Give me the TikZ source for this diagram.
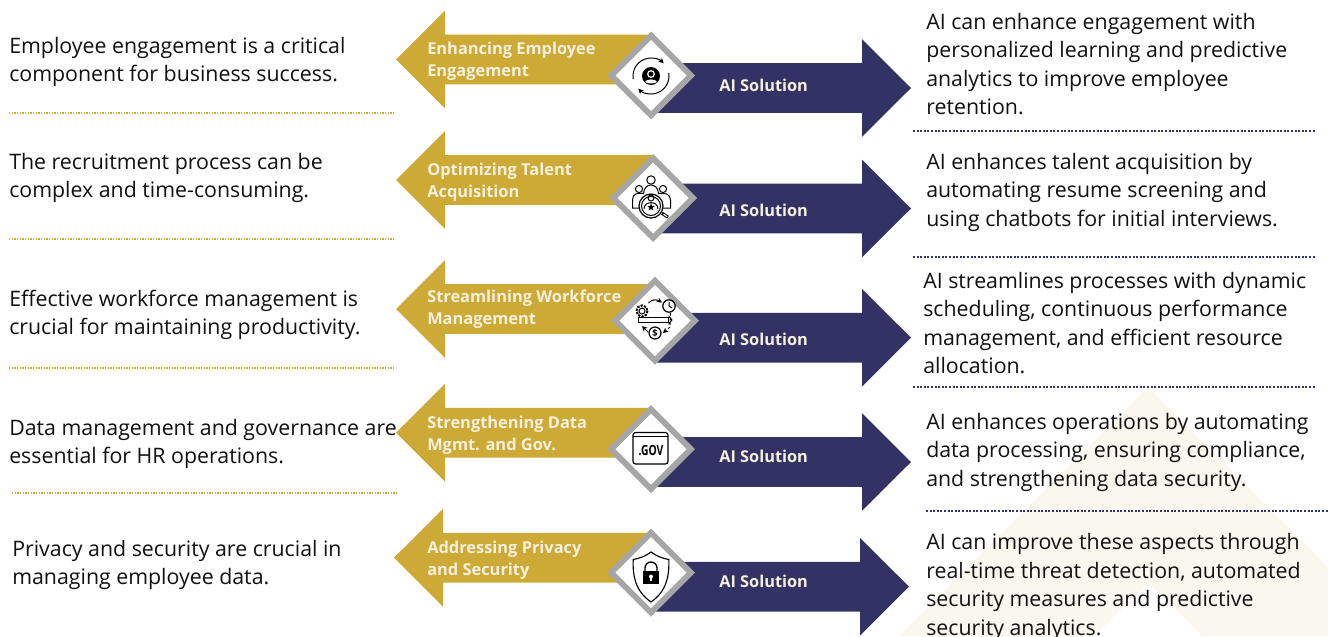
\documentclass[tikz,border=0pt]{standalone}
\usepackage{fontspec}
\setmainfont{Open Sans}
\usetikzlibrary{arrows.meta}
\definecolor{goldc}{HTML}{CDA935}
\definecolor{navyc}{HTML}{323264}
\definecolor{greyc}{HTML}{A6A6A6}
\definecolor{creamc}{HTML}{FAF7EE}
\definecolor{labelc}{HTML}{F6F0DE}
\definecolor{textc}{HTML}{111111}
\tikzset{
  x=0.75pt,y=-0.75pt,
  body/.style={anchor=west,align=left,inner sep=0pt,text=textc,font=\fontsize{16}{21.4}\selectfont},
  lab/.style={anchor=west,align=left,inner sep=0pt,text=labelc,font=\fontsize{12.3}{16.5}\selectfont\bfseries},
  aisol/.style={anchor=west,inner sep=0pt,text=labelc,font=\fontsize{12.25}{14}\selectfont\bfseries},
  golddots/.style={draw=goldc,line width=1.1pt,dash pattern=on 1.1pt off 0.9pt},
  navydots/.style={draw=navyc,line width=1.5pt,dash pattern=on 1.5pt off 1.2pt},
  ico/.style={draw=black,line width=0.75pt,fill=none},
  tipline/.style={draw=black,line width=0.75pt,-{Stealth[length=4pt,width=4pt]}},
}
% #1 tip x, #2 head base x, #3 mid y, #4 inner end x
\newcommand{\bigarrow}[5]{\fill[#5] (#1,#3) -- (#2,#3-48.8) -- (#2,#3-24.8) -- (#4,#3-24.8) -- (#4,#3+24.8) -- (#2,#3+24.8) -- (#2,#3+48.8) -- cycle;}
\newcommand{\diamondbox}[2]{\fill[greyc] (#1-44,#2) -- (#1,#2-44) -- (#1+44,#2) -- (#1,#2+44) -- cycle;
  \fill[white] (#1-35.5,#2) -- (#1,#2-35.5) -- (#1+35.5,#2) -- (#1,#2+35.5) -- cycle;}
\begin{document}
\begin{tikzpicture}
\useasboundingbox (0,0) rectangle (1328,636);
\clip (0,0) rectangle (1328,636);
\fill[white] (0,0) rectangle (1328,636);
% background chevron
\fill[creamc] (899,636) -- (1148,387) -- (1328,567) -- (1328,636) -- (1202.5,636) -- (1148,582) -- (1094,636) -- cycle;
% arrows
\bigarrow{396}{445}{59.5}{651}{goldc}
\bigarrow{911}{862}{88}{651}{navyc}
\bigarrow{396}{445}{180}{653}{goldc}
\bigarrow{911}{862}{208.5}{653}{navyc}
\bigarrow{396}{445}{309}{655}{goldc}
\bigarrow{911}{862}{337.7}{655}{navyc}
\bigarrow{396}{445}{432.7}{651}{goldc}
\bigarrow{911}{862}{462}{651}{navyc}
\bigarrow{394}{443}{557.7}{651}{goldc}
\bigarrow{909}{860}{586.7}{651}{navyc}
% diamonds
\diamondbox{651}{75.5}
\diamondbox{653}{198}
\diamondbox{655}{320.7}
\diamondbox{651}{449.2}
\diamondbox{651}{572.5}
% icon 1
\begin{scope}[shift={(651,76)}]
  \fill[black] (0,0) circle (9);
  \draw[white,line width=0.9pt] (0,-2) circle (3.3);
  \fill[white] (-6,6) .. controls (-5.3,2.6) and (5.3,2.6) .. (6,6) .. controls (3,8) and (-3,8) .. (-6,6) -- cycle;
  \draw[tipline] (170:18) arc[start angle=170,end angle=315,radius=18];
  \draw[tipline] (-10:18) arc[start angle=-10,end angle=135,radius=18];
\end{scope}
% icon 2
\begin{scope}[shift={(651,206)}]
  \draw[ico] (0,-26) circle (4.2);
  \draw[ico] (-7.5,-12) .. controls (-7.5,-24) and (7.5,-24) .. (7.5,-12);
  \draw[ico] (-12,-17) circle (3.6);
  \draw[ico] (12,-17) circle (3.6);
  \draw[ico] (-8,-12.5) .. controls (-14,-13.5) and (-18.5,-12) .. (-18.5,-6) -- (-18.5,2) -- (-11,2);
  \draw[ico] (8,-12.5) .. controls (14,-13.5) and (19.5,-12) .. (19.5,-6) -- (19.5,2) -- (12,2);
  \fill[white] (0,0) circle (12);
  \draw[ico,line width=0.9pt] (0,0) circle (12);
  \draw[ico] (0,0) circle (9.5);
  \draw[ico] (0,-8) circle (3);
  \draw[ico] (-7,3) .. controls (-7,-5.5) and (7,-5.5) .. (7,3);
  \fill[black] (0,-3) -- (1,0) -- (3.8,0) -- (1.6,1.8) -- (2.4,4.4) -- (0,3) -- (-2.4,4.4) -- (-1.6,1.8) -- (-3.8,0) -- (-1,0) -- cycle;
  \draw[black,line width=2.4pt] (11,7.2) -- (17,11.2);
  \draw[white,line width=0.9pt] (12.5,8.2) -- (16.2,10.7);
\end{scope}
% icon 3
\begin{scope}[shift={(655,322)}]
  \draw[ico,dash pattern=on 1.7pt off 0.9pt,line width=1.5pt] (-13,-11) circle (5.6);
  \draw[ico] (-13,-11) circle (3);
  \draw[ico,line width=0.9pt] (14,-16) circle (6.2);
  \draw[ico] (14,-20) -- (14,-16) -- (17,-14);
  \draw[ico,line width=0.9pt] (0,11) circle (6);
  \node[inner sep=0pt,font=\fontsize{7}{7}\selectfont\bfseries] (dollar) at (0,11) {\$};
  \draw[tipline] (-6.5,-19) .. controls (-3,-23) and (2,-22.5) .. (7,-19.5);
  \draw[ico,line width=0.9pt] (-16.7,-4.5) rectangle (13.5,0.5);
  \fill[black] (13.5,-7) -- (17.5,-2) -- (13.5,3) -- cycle;
  \fill[white] (14.2,-4.3) -- (16,-2) -- (14.2,0.3) -- cycle;
  \draw[tipline,dash pattern=on 2pt off 1.5pt] (15.5,-9) -- (15,5) -- (8,11);
  \draw[tipline] (-7,10) -- (-13,4);
\end{scope}
% icon 4
\draw[draw=black,line width=0.9pt,rounded corners=2pt,fill=white] (633,432.5) rectangle (668,464);
\draw[black,line width=0.9pt] (633,436.5) -- (668,436.5);
\node[inner sep=0pt,font=\fontsize{10.5}{11}\selectfont\bfseries,xscale=0.74] (gov) at (651,451) {.GOV};
% icon 5
\begin{scope}[shift={(651,577)}]
  \draw[black,line width=0.85pt] (0,-25) .. controls (-5,-21) and (-12,-18.5) .. (-17.8,-17.5) .. controls (-18.5,-2) and (-16,14) .. (0,25) .. controls (16,14) and (18.5,-2) .. (17.8,-17.5) .. controls (12,-18.5) and (5,-21) .. (0,-25) -- cycle;
  \draw[black,line width=1pt] (-6,-6) -- (-6,-9) arc[start angle=180,end angle=360,radius=6] -- (6,-6);
  \fill[black] (-8.2,-6) rectangle (8.2,7);
  \fill[white] (0,-0.5) circle (2);
  \fill[white] (-1.1,-0.5) rectangle (1.1,4);
\end{scope}
% separators
\coordinate (l1a) at (9,113); \coordinate (l1b) at (395,113);
\coordinate (l2a) at (9,239); \coordinate (l2b) at (395,239);
\coordinate (l3a) at (9,368); \coordinate (l3b) at (395,368);
\coordinate (l4a) at (12,493); \coordinate (l4b) at (398,493);
\coordinate (r1a) at (913,130.5); \coordinate (r1b) at (1315,130.5);
\coordinate (r2a) at (913,257); \coordinate (r2b) at (1315,257);
\coordinate (r3a) at (913,386.5); \coordinate (r3b) at (1315,386.5);
\coordinate (r4a) at (926,511); \coordinate (r4b) at (1328,511);
\draw[golddots] (l1a) -- (l1b);
\draw[golddots] (l2a) -- (l2b);
\draw[golddots] (l3a) -- (l3b);
\draw[golddots] (l4a) -- (l4b);
\draw[navydots] (r1a) -- (r1b);
\draw[navydots] (r2a) -- (r2b);
\draw[navydots] (r3a) -- (r3b);
\draw[navydots] (r4a) -- (r4b);
% left texts
\node[body] (left1) at (9,62) {Employee engagement is a critical\\component for business success.};
\node[body] (left2) at (9,178) {The recruitment process can be\\complex and time-consuming.};
\node[body] (left3) at (9,315) {Effective workforce management is\\crucial for maintaining productivity.};
\node[body] (left4) at (9,444) {Data management and governance are\\essential for HR operations.};
\node[body] (left5) at (12,565) {Privacy and security are crucial in\\managing employee data.};
% labels
\node[lab] (lab1) at (427,61) {Enhancing Employee\\Engagement};
\node[lab] (lab2) at (427,182) {Optimizing Talent\\Acquisition};
\node[lab] (lab3) at (427,309) {Streamlining Workforce\\Management};
\node[lab] (lab4) at (427,435) {Strengthening Data\\Mgmt. and Gov.};
\node[lab] (lab5) at (427,560) {Addressing Privacy\\and Security};
\node[aisol] (ai1) at (719,85) {AI Solution};
\node[aisol] (ai2) at (719,210) {AI Solution};
\node[aisol] (ai3) at (719,339) {AI Solution};
\node[aisol] (ai4) at (719,456) {AI Solution};
\node[aisol] (ai5) at (719,581) {AI Solution};
% right texts
\node[body] (right1) at (926,64) {AI can enhance engagement with\\personalized learning and predictive\\analytics to improve employee\\retention.};
\node[body] (right2) at (926,192) {AI enhances talent acquisition by\\automating resume screening and\\using chatbots for initial interviews.};
\node[body] (right3) at (923,323) {AI streamlines processes with dynamic\\scheduling, continuous performance\\management, and efficient resource\\allocation.};
\node[body] (right4) at (926,452) {AI enhances operations by automating\\data processing, ensuring compliance,\\and strengthening data security.};
\node[body] (right5) at (926,587) {AI can improve these aspects through\\real-time threat detection, automated\\security measures and predictive\\security analytics.};
\end{tikzpicture}
\end{document}
